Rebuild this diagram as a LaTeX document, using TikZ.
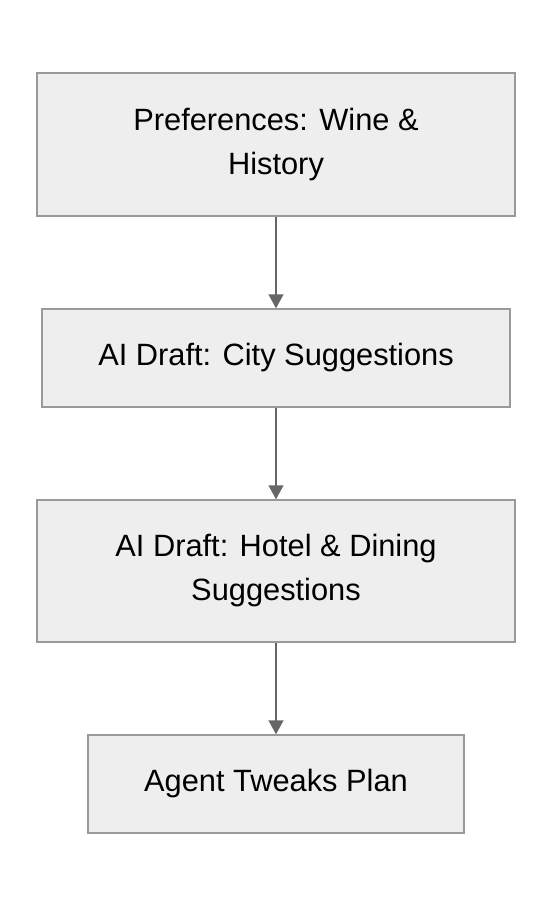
\documentclass[tikz,border=0pt]{standalone}
\usepackage{fontspec}
\setmainfont{Liberation Sans}
\usepackage{tikz}
\usetikzlibrary{shapes.geometric,arrows.meta,calc,positioning}
\definecolor{boxfill}{HTML}{EEEEEE}
\definecolor{boxline}{HTML}{9A9A9A}
\definecolor{arrowline}{HTML}{666666}

\begin{document}
\begin{tikzpicture}[x = 1pt, y = 1pt, node distance = 91.5pt]
	\tikzstyle{every node} = [rectangle, draw = boxline, fill = boxfill, line width = 1.5pt, align = center, inner sep = 0pt, font = \fontsize{30.8}{44}\selectfont]
\useasboundingbox (0,0) rectangle (552,-908);
\node[minimum width = 478pt, minimum height = 143pt] (1) at (276,-144.5) {Preferences: Wine \&\\History};
\node[minimum width = 468pt, minimum height = 98pt, below = of 1] (2) {AI Draft: City Suggestions};
\node[minimum width = 478pt, minimum height = 142pt, below = of 2] (3) {AI Draft: Hotel \& Dining\\Suggestions};
\node[minimum width = 376pt, minimum height = 98pt, below = of 3] (4) {Agent Tweaks Plan};
	\path[draw][-{Triangle[width = 15pt, length = 14pt]}, draw = arrowline, fill = arrowline, line width = 1.5pt] (1) -- (2);
	\path[draw][-{Triangle[width = 15pt, length = 14pt]}, draw = arrowline, fill = arrowline, line width = 1.5pt] (2) -- (3);
	\path[draw][-{Triangle[width = 15pt, length = 14pt]}, draw = arrowline, fill = arrowline, line width = 1.5pt] (3) -- (4);
	\end{tikzpicture}
\end{document}
